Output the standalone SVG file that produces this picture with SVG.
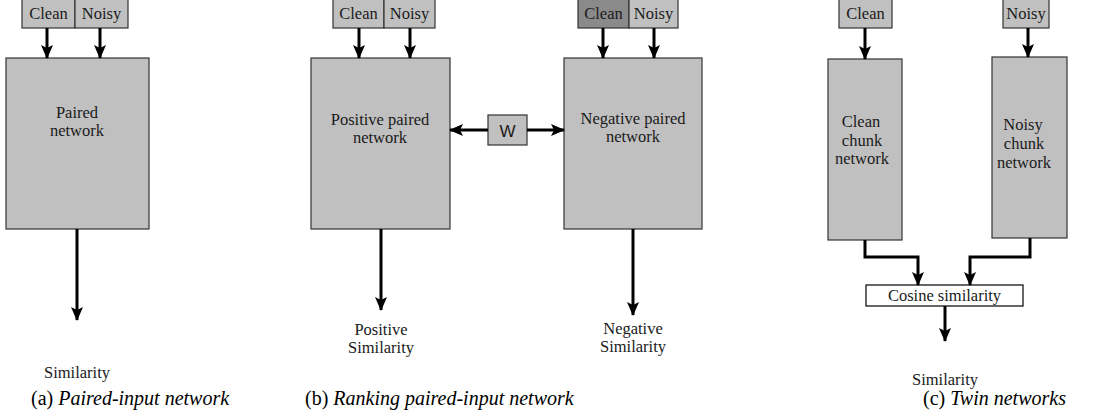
<svg xmlns="http://www.w3.org/2000/svg" width="1105" height="416" viewBox="0 0 1105 416">
<defs>
<marker id="ah" viewBox="0 0 14 12" refX="13" refY="6" markerWidth="14" markerHeight="12" markerUnits="userSpaceOnUse" orient="auto-start-reverse">
<path d="M0,0 L14,6 L0,12 L3,6 Z" fill="#000"/>
</marker>
<style>
.box{fill:#c0c0c0;stroke:#333;stroke-width:1.2}
.dark{fill:#8a8a8a;stroke:#333;stroke-width:1.2}
.wbox{fill:#fff;stroke:#000;stroke-width:1.2}
.t{font-family:'Liberation Serif','Times New Roman','DejaVu Serif',serif;font-size:16.5px;fill:#1a1a1a;text-anchor:middle}
.s{font-family:'Liberation Sans',Arial,sans-serif;font-size:17px;fill:#1a1a1a;text-anchor:middle}
.cap{font-family:'Liberation Serif','Times New Roman','DejaVu Serif',serif;font-size:20px;fill:#000}
.c{fill:none;stroke:#000;stroke-width:3;marker-end:url(#ah)}
</style>
</defs>
<g id="a-clean"><rect class="box" x="22" y="-2" width="53" height="30"/><text class="t" x="48.5" y="19">Clean</text></g>
<g id="a-noisy"><rect class="box" x="75" y="-2" width="53" height="30"/><text class="t" x="101.5" y="19">Noisy</text></g>
<g id="a-net"><rect class="box" x="6" y="58" width="143" height="171"/><text class="t" x="77" y="118">Paired</text><text class="t" x="77" y="136">network</text></g>
<g id="a-sim"><text class="t" x="77" y="378">Similarity</text></g>
<g id="b-clean"><rect class="box" x="333" y="-2" width="51" height="30"/><text class="t" x="358.5" y="19">Clean</text></g>
<g id="b-noisy"><rect class="box" x="384" y="-2" width="51" height="30"/><text class="t" x="409.5" y="19">Noisy</text></g>
<g id="b-pos"><rect class="box" x="311" y="58" width="139" height="171"/><text class="t" x="380" y="125">Positive paired</text><text class="t" x="380" y="143">network</text></g>
<g id="b-w"><rect class="box" x="488" y="115" width="39" height="30"/><text class="s" x="507.5" y="137">W</text></g>
<g id="b-clean2"><rect class="dark" x="578" y="-2" width="51" height="30"/><text class="t" x="603.5" y="19">Clean</text></g>
<g id="b-noisy2"><rect class="box" x="629" y="-2" width="49" height="30"/><text class="t" x="653.5" y="19">Noisy</text></g>
<g id="b-neg"><rect class="box" x="564" y="58" width="138" height="171"/><text class="t" x="633" y="124">Negative paired</text><text class="t" x="633" y="142">network</text></g>
<g id="b-possim"><text class="t" x="381" y="335">Positive</text><text class="t" x="381" y="353">Similarity</text></g>
<g id="b-negsim"><text class="t" x="633" y="334">Negative</text><text class="t" x="633" y="352">Similarity</text></g>
<g id="c-clean"><rect class="box" x="839" y="-2" width="53" height="30"/><text class="t" x="865.5" y="19">Clean</text></g>
<g id="c-noisy"><rect class="box" x="1003" y="-2" width="46" height="30"/><text class="t" x="1026" y="19">Noisy</text></g>
<g id="c-cnet"><rect class="box" x="828" y="59" width="74" height="181"/><text class="t" x="861" y="127">Clean</text><text class="t" x="862" y="146">chunk</text><text class="t" x="862" y="164">network</text></g>
<g id="c-nnet"><rect class="box" x="992" y="57" width="75" height="181"/><text class="t" x="1023" y="130">Noisy</text><text class="t" x="1024" y="149">chunk</text><text class="t" x="1024" y="168">network</text></g>
<g id="c-cos"><rect class="wbox" x="866" y="285" width="157" height="21"/><text class="t" x="944.5" y="301">Cosine similarity</text></g>
<g id="c-sim"><text class="t" x="945" y="385">Similarity</text></g>
<g id="connectors">
<path class="c" d="M47,28 V58"/>
<path class="c" d="M100,28 V58"/>
<path class="c" d="M77,229 V320"/>
<path class="c" d="M359,28 V58"/>
<path class="c" d="M410,28 V58"/>
<path class="c" d="M603,28 V58"/>
<path class="c" d="M654,28 V58"/>
<path class="c" d="M381,229 V310"/>
<path class="c" d="M633,229 V315"/>
<path class="c" d="M488,130 H450"/>
<path class="c" d="M527,130 H564"/>
<path class="c" d="M865,28 V59"/>
<path class="c" d="M1028,28 V57"/>
<path class="c" d="M865,240 V257 H918 V285"/>
<path class="c" d="M1030,238 V257 H970 V285"/>
<path class="c" d="M945,306 V341"/>
</g>
<g id="captions">
<text class="cap" x="31" y="405">(a) <tspan font-style="italic">Paired-input network</tspan></text>
<text class="cap" x="305" y="405">(b) <tspan font-style="italic">Ranking paired-input network</tspan></text>
<text class="cap" x="923" y="405">(c) <tspan font-style="italic">Twin networks</tspan></text>
</g>
</svg>
